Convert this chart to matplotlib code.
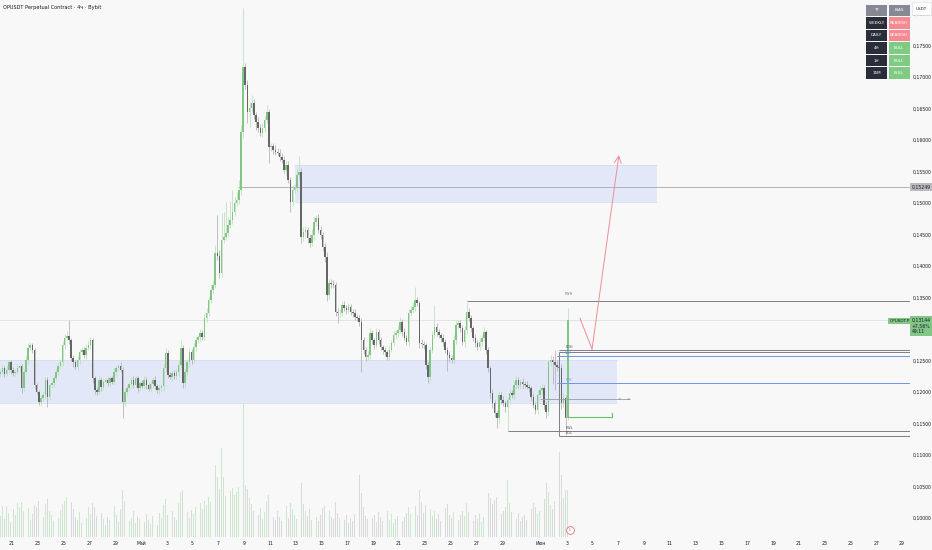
import numpy as np
import matplotlib
matplotlib.use('Agg')
import matplotlib.pyplot as plt
from matplotlib.patches import Rectangle
from matplotlib.transforms import blended_transform_factory
from matplotlib import font_manager

# OPUSDT.P 4h candles, 20 Apr 00:00 -> 3 Jun 00:00 (open of each bar = previous close)
first_open = 0.1228
closes = [
    .1232, .1238, .1229, .1235, .1247, .1235, .1230, .1232, .1238, .1241,
    .1206, .1232, .1251, .1270, .1274, .1267, .1211, .1200, .1184, .1190,
    .1195, .1219, .1192, .1211, .1214, .1222, .1232, .1241, .1247, .1274,
    .1286, .1289, .1282, .1254, .1247, .1240, .1251, .1263, .1267, .1259,
    .1270, .1274, .1282, .1222, .1203, .1200, .1219, .1208, .1216, .1219,
    .1214, .1222, .1216, .1232, .1238, .1241, .1235, .1184, .1200, .1206,
    .1213, .1219, .1211, .1222, .1206, .1214, .1209, .1219, .1211, .1205,
    .1213, .1219, .1209, .1203, .1206, .1209, .1238, .1262, .1227, .1224,
    .1230, .1225, .1232, .1243, .1270, .1214, .1232, .1247, .1263, .1251,
    .1271, .1282, .1287, .1294, .1287, .1317, .1325, .1346, .1362, .1370,
    .1421, .1416, .1389, .1441, .1446, .1452, .1465, .1473, .1486, .1500,
    .1505, .1521, .1613, .1716, .1688, .1645, .1651, .1659, .1640, .1629,
    .1619, .1611, .1619, .1632, .1645, .1589, .1590, .1584, .1581, .1580,
    .1573, .1568, .1553, .1561, .1537, .1502, .1521, .1524, .1545, .1549,
    .1446, .1454, .1457, .1444, .1436, .1449, .1470, .1476, .1457, .1449,
    .1430, .1414, .1354, .1373, .1372, .1370, .1327, .1325, .1326, .1338,
    .1333, .1330, .1335, .1327, .1325, .1319, .1317, .1311, .1282, .1267,
    .1255, .1259, .1294, .1282, .1274, .1295, .1282, .1271, .1267, .1263,
    .1255, .1267, .1278, .1290, .1294, .1298, .1311, .1295, .1286, .1279,
    .1325, .1330, .1335, .1346, .1341, .1278, .1276, .1274, .1243, .1224,
    .1267, .1290, .1303, .1295, .1290, .1286, .1279, .1267, .1259, .1254,
    .1251, .1282, .1306, .1309, .1301, .1279, .1298, .1327, .1317, .1301,
    .1286, .1278, .1271, .1279, .1286, .1295, .1267, .1238, .1198, .1182,
    .1166, .1158, .1195, .1187, .1182, .1176, .1187, .1198, .1195, .1211,
    .1219, .1211, .1216, .1213, .1211, .1208, .1206, .1192, .1179, .1171,
    .1195, .1203, .1206, .1179, .1168, .1247, .1251, .1247, .1243, .1240,
    .1238, .1182, .1190, .1158, .13144,
]
# wick lengths beyond the body, in 0.0001
up_wick = [
    4, 5, 3, 6, 4, 3, 5, 4, 6, 3,
    4, 5, 6, 7, 5, 4, 3, 4, 3, 5,
    6, 4, 5, 3, 4, 5, 4, 6, 5, 7,
    6, 8, 25, 4, 5, 3, 6, 5, 4, 5,
    6, 7, 5, 4, 3, 5, 6, 4, 5, 3,
    4, 5, 3, 6, 5, 4, 6, 5, 4, 5,
    3, 4, 6, 5, 3, 4, 5, 6, 4, 3,
    5, 4, 6, 3, 5, 4, 6, 8, 4, 5,
    3, 5, 4, 6, 12, 4, 5, 6, 7, 5,
    6, 5, 4, 6, 5, 7, 8, 6, 9, 7,
    12, 60, 10, 43, 40, 50, 12, 30, 35, 10,
    12, 15, 10, 94, 6, 8, 10, 12, 6, 5,
    7, 6, 8, 6, 10, 4, 6, 5, 8, 6,
    5, 7, 6, 8, 5, 4, 7, 6, 9, 26,
    6, 8, 7, 5, 6, 9, 8, 5, 6, 7,
    5, 6, 8, 7, 6, 5, 4, 6, 5, 7,
    6, 5, 7, 4, 5, 6, 4, 5, 6, 5,
    4, 6, 8, 5, 4, 7, 5, 6, 4, 5,
    4, 6, 5, 7, 5, 6, 8, 5, 6, 4,
    7, 6, 8, 20, 5, 4, 6, 5, 4, 6,
    5, 7, 35, 6, 5, 4, 6, 5, 4, 6,
    5, 8, 7, 6, 5, 6, 7, 16, 6, 5,
    4, 6, 5, 7, 5, 8, 4, 5, 4, 6,
    5, 4, 7, 5, 6, 4, 5, 6, 5, 7,
    6, 5, 4, 6, 5, 7, 5, 4, 6, 5,
    8, 6, 7, 5, 6, 3, 8, 6, 20, 7,
    9, 6, 8, 5, 19,
]
dn_wick = [
    5, 4, 6, 3, 5, 6, 4, 5, 3, 6,
    7, 5, 4, 6, 3, 5, 6, 4, 5, 6,
    5, 6, 16, 4, 5, 6, 3, 5, 4, 6,
    5, 4, 6, 5, 7, 4, 5, 6, 4, 5,
    6, 4, 5, 8, 6, 5, 4, 6, 5, 4,
    5, 6, 4, 5, 6, 5, 4, 26, 6, 5,
    4, 6, 5, 4, 6, 5, 3, 5, 6, 4,
    5, 6, 4, 5, 6, 4, 7, 6, 5, 4,
    6, 5, 4, 6, 5, 8, 6, 5, 7, 6,
    5, 6, 4, 6, 5, 4, 6, 5, 4, 6,
    5, 7, 8, 6, 5, 4, 6, 5, 7, 6,
    5, 6, 8, 10, 7, 18, 24, 6, 7, 13,
    6, 5, 7, 6, 5, 25, 6, 7, 5, 6,
    7, 5, 6, 8, 6, 16, 7, 5, 6, 7,
    9, 6, 8, 7, 6, 5, 7, 6, 5, 6,
    7, 8, 9, 6, 7, 5, 6, 16, 6, 5,
    5, 6, 4, 5, 6, 4, 5, 6, 50, 7,
    6, 5, 7, 6, 5, 4, 6, 5, 7, 6,
    5, 6, 4, 5, 6, 7, 5, 6, 4, 5,
    6, 5, 4, 6, 5, 8, 6, 5, 7, 10,
    6, 5, 4, 6, 5, 7, 6, 5, 25, 6,
    5, 7, 6, 5, 6, 5, 7, 6, 5, 6,
    5, 6, 4, 5, 6, 5, 7, 6, 8, 7,
    6, 15, 7, 6, 5, 8, 38, 6, 5, 7,
    6, 5, 7, 6, 5, 4, 6, 7, 5, 6,
    6, 5, 7, 6, 10, 5, 6, 35, 40, 6,
    7, 9, 6, 26, 3,
]
# volume, millions
volume = [
    2.1, 3.1, 1.8, 3.1, 2.4, 1.5, 2.8, 2.2, 3.4, 3.0,
    3.5, 2.6, 2.0, 2.9, 1.7, 2.3, 3.2, 3.0, 3.6, 2.5,
    2.0, 3.3, 3.8, 2.6, 2.2, 1.6, 2.4, 1.9, 2.7, 3.3,
    3.6, 4.0, 8.9, 3.5, 2.8, 2.0, 1.7, 2.5, 1.4, 2.2,
    1.9, 3.0, 2.3, 3.4, 3.0, 2.1, 1.6, 2.4, 1.8, 1.2,
    2.0, 1.7, 2.6, 3.1, 2.2, 1.5, 2.8, 4.7, 3.6, 2.1,
    1.6, 1.9, 2.6, 1.4, 2.0, 1.8, 2.9, 1.5, 2.3, 1.7,
    1.3, 2.1, 1.6, 1.2, 2.4, 1.9, 3.2, 3.8, 2.2, 1.8,
    2.6, 2.0, 1.7, 3.4, 4.5, 4.7, 3.1, 2.5, 1.9, 2.7,
    2.3, 3.0, 2.1, 3.4, 2.8, 3.6, 3.2, 4.0, 3.5, 4.4,
    7.2, 6.0, 4.8, 8.9, 6.0, 4.1, 3.7, 4.6, 4.9, 4.2,
    4.5, 5.0, 6.3, 13.4, 5.2, 4.8, 3.9, 3.3, 2.6, 3.0,
    2.2, 2.9, 1.8, 2.5, 3.6, 4.2, 2.4, 2.0, 1.7, 2.6,
    2.0, 1.6, 2.3, 3.1, 1.9, 3.4, 2.8, 2.2, 1.8, 3.0,
    5.4, 3.3, 2.6, 2.1, 2.8, 1.7, 2.4, 2.0, 1.6, 2.2,
    2.9, 3.1, 4.2, 2.7, 2.0, 1.8, 3.5, 2.4, 1.9, 1.5,
    1.7, 2.2, 1.4, 1.9, 1.6, 2.3, 2.8, 6.2, 4.4, 3.0,
    2.1, 1.8, 2.7, 1.9, 2.2, 1.5, 2.5, 2.0, 1.6, 1.9,
    2.6, 1.7, 2.3, 1.4, 1.8, 2.1, 2.9, 1.6, 2.0, 2.4,
    3.0, 2.3, 2.7, 3.1, 2.2, 4.7, 3.5, 2.4, 3.2, 3.9,
    2.8, 2.1, 2.6, 1.8, 2.3, 1.6, 2.0, 2.9, 3.3, 2.2,
    1.9, 2.5, 2.8, 1.7, 2.2, 2.6, 2.1, 3.4, 2.5, 2.0,
    1.6, 2.2, 1.8, 2.4, 1.5, 2.0, 3.2, 4.4, 3.9, 3.3,
    3.7, 4.0, 2.9, 2.3, 2.6, 3.0, 5.7, 3.4, 2.5, 2.1,
    1.8, 2.4, 1.6, 2.0, 2.2, 1.7, 2.5, 2.8, 3.4, 3.0,
    2.3, 2.6, 3.1, 3.8, 5.4, 4.5, 3.2, 2.8, 3.6, 4.1,
    8.5, 6.2, 3.9, 4.7, 4.7,
]

# time axis: days after 20 Apr
tick_days = list(range(1, 40, 2)) + list(range(42, 71, 2))
tick_labels = (['21', '23', '25', '27', '29', 'Май'] + [str(d) for d in range(3, 30, 2)]
               + ['Июн'] + [str(d) for d in range(3, 30, 2)])

# levels drawn on the chart
demand_zone = (0.1182, 0.1251)
supply_zone = (0.1502, 0.1561)
level_mark = 0.15249
pwh, pdh, box_top, vah, poc, eq_line, tp_line, pwl, pdl = (
    0.1344, 0.1267, 0.1264, 0.1257, 0.1214, 0.1189, 0.1160, 0.1138, 0.1130)
arrow_prices = [0.1317, 0.1268, 0.1576]
last_price = 0.13144

tf_rows = ['WEEKLY', 'DAILY', '4H', '1H', '15M']
bias_rows = ['BEARISH', 'BEARISH', 'BULL', 'BULL', 'BULL']

assert len(closes) == len(up_wick) == len(dn_wick) == len(volume)

names = {f.name for f in font_manager.fontManager.ttflist}
FONT = 'Liberation Sans Narrow' if 'Liberation Sans Narrow' in names else 'DejaVu Sans'
plt.rcParams['font.family'] = [FONT, 'DejaVu Sans']

BG = '#f8f8f8'
UP, DOWN = '#80c784', '#666666'
UP_W, DOWN_W = '#b6dcb8', '#a9a9a9'
BLUE = '#6f92ee'
GRAY_LINE = '#7d7f86'
TXT = '#131722'
FS = 3.3

closes = np.array(closes)
opens = np.r_[first_open, closes[:-1]]
highs = np.maximum(opens, closes) + np.array(up_wick) * 1e-4
lows = np.minimum(opens, closes) - np.array(dn_wick) * 1e-4
is_up = closes >= opens
x = np.arange(len(closes)) + 0.5

fig = plt.figure(figsize=(9.32, 5.5), dpi=100, facecolor=BG)
ax = fig.add_axes([0, 13 / 550, 910 / 932, 537 / 550])
vax = ax.twinx()
vax.set_zorder(ax.get_zorder() - 1)
ax.patch.set_visible(False)
vax.set_facecolor(BG)

X_RIGHT = 423.7
ax.set_xlim(0.42, X_RIGHT)
ax.set_ylim(0.09698, 0.18222)

# volume
vax.bar(x, volume, width=0.4, color=np.where(is_up, '#cde7ce', '#d9d9d9'), linewidth=0)
vax.set_ylim(0, max(volume) / 0.25)
vax.set_yticks([])
for s in vax.spines.values():
    s.set_visible(False)

# zones
ax.add_patch(Rectangle((0, demand_zone[0]), 287.4, demand_zone[1] - demand_zone[0],
                       facecolor='#2962ff', alpha=0.1, edgecolor='none', zorder=1))
ax.hlines(demand_zone, 0, 287.4, color='#d3dbef', lw=0.5, zorder=1)
ax.add_patch(Rectangle((137.6, supply_zone[0]), 306.0 - 137.6, supply_zone[1] - supply_zone[0],
                       facecolor='#2962ff', alpha=0.1, edgecolor='none', zorder=1))
ax.hlines(supply_zone, 137.6, 306.0, color='#d3dbef', lw=0.5, zorder=1)

ax.axhline(last_price, color='#d5d5d5', lw=0.4, zorder=1)
ax.hlines(level_mark, 111, X_RIGHT, color='#a8a8a8', lw=0.6, zorder=2)

# candles
ax.vlines(x, lows, highs, colors=np.where(is_up, UP_W, DOWN_W), lw=0.5, zorder=3)
body = np.maximum(np.abs(closes - opens), 0.00006)
ax.bar(x, body, bottom=np.minimum(opens, closes), width=0.72,
       color=np.where(is_up, UP, DOWN), linewidth=0, zorder=4)

# liquidity / value levels
ax.hlines(pwh, 217.5, X_RIGHT, color=GRAY_LINE, lw=0.7, zorder=5)
ax.hlines([pdh, box_top], [260.4, 260.4], X_RIGHT, color=GRAY_LINE, lw=0.7, zorder=5)
ax.vlines(260.4, pdl, box_top, color=GRAY_LINE, lw=0.7, zorder=5)
ax.hlines(pdl, 260.4, X_RIGHT, color=GRAY_LINE, lw=0.7, zorder=5)
ax.hlines(pwl, 236.5, X_RIGHT, color=GRAY_LINE, lw=0.7, zorder=5)
ax.hlines([vah, poc], 259.5, X_RIGHT, color=BLUE, lw=0.7, zorder=5)
ax.hlines(eq_line, 251.6, 293.4, color='#9a9ca3', lw=0.6, zorder=5)
for xm in (288.3, 292.5):
    ax.text(xm, eq_line, '×', fontsize=2.8, color='#787b86', ha='center', va='center', zorder=6)
ax.plot([264.6, 285.1], [tp_line, tp_line], color='#69bf6d', lw=0.8, zorder=6)
ax.plot([285.1, 285.1], [tp_line, tp_line + 0.0006], color='#69bf6d', lw=0.8, zorder=6)

lab_x = 265.1
for y, t, c in [(pwh + 0.0008, 'PWH', '#787b86'), (pdh + 0.0002, 'PDH', '#4a4c52'),
                (vah + 0.0002, 'VAH', BLUE), (poc + 0.0002, 'POC', BLUE),
                (pwl + 0.0002, 'PWL', '#4a4c52'), (pdl + 0.0001, 'PDL', '#4a4c52')]:
    ax.text(lab_x, y, t, fontsize=2.5, color=c, ha='center', va='bottom', zorder=7)

# projected path
ax.plot([270.2, 275.8], arrow_prices[:2], color='#f08c98', lw=0.7, zorder=6)
ax.annotate('', xy=(288.3, arrow_prices[2]), xytext=(275.8, arrow_prices[1]),
            arrowprops=dict(arrowstyle='->,head_length=0.5,head_width=0.25',
                            color='#f08c98', lw=0.7, shrinkA=0, shrinkB=0), zorder=6)

# event marker on the volume pane
tr_xa = blended_transform_factory(ax.transData, ax.transAxes)
ax.plot([265.5], [0.013], transform=tr_xa, marker='o', ms=5.6, mfc='white',
        mec='#e06c75', mew=0.6, zorder=8, clip_on=False)
ax.text(265.5, 0.013, 'E', transform=tr_xa, fontsize=2.2, color='#e06c75',
        ha='center', va='center', zorder=9)

# axes styling
for s in ax.spines.values():
    s.set_visible(False)
ax.set_xticks([d * 6 for d in tick_days])
ax.set_xticklabels(tick_labels)
ax.yaxis.tick_right()
yt = np.round(np.arange(0.100, 0.1801, 0.005), 3)
ax.set_yticks(yt)
# 0,13000 sits under the live price label on the scale
ax.set_yticklabels(['' if abs(v - 0.130) < 1e-9 else f'{v:.5f}'.replace('.', ',') for v in yt])
ax.tick_params(axis='both', length=0, labelsize=FS, colors=TXT)
ax.tick_params(axis='x', pad=3.2)
ax.tick_params(axis='y', pad=2.3)

# price scale labels
tr_ay = blended_transform_factory(ax.transAxes, ax.transData)
ax.text(1.0015, level_mark, '0,15249', transform=tr_ay, fontsize=FS, color=TXT,
        ha='left', va='center', clip_on=False, zorder=10,
        bbox=dict(boxstyle='square,pad=0.3', fc='#b9bbc1', ec='none'))
ax.text(1.0015, last_price + 0.0004, '0,13144\n+7,56%\n49:11', transform=tr_ay,
        fontsize=FS, color=TXT, ha='left', va='top', linespacing=1.25, clip_on=False,
        zorder=10, bbox=dict(boxstyle='square,pad=0.35', fc='#82c786', ec='none'))
ax.text(977 / 1000 + 0.0005, last_price - 0.0002, 'OPUSDT.P', transform=tr_ay,
        fontsize=FS * 0.9, color=TXT, ha='left', va='center', clip_on=False, zorder=10,
        bbox=dict(boxstyle='square,pad=0.25', fc='#82c786', ec='none'))

# overlay in pixel units for the screen furniture
oax = fig.add_axes([0, 0, 1, 1], zorder=20)
oax.set_xlim(0, 932)
oax.set_ylim(550, 0)
oax.axis('off')
oax.patch.set_visible(False)

oax.text(3, 7, 'OPUSDT Perpetual Contract · 4ч · Bybit', fontsize=3.6, color=TXT,
         ha='left', va='center')
oax.add_patch(Rectangle((912, 2), 19, 13, fc='white', ec='#dcdcdc', lw=0.4))
oax.text(921.5, 8.5, 'USDT', fontsize=3.0, color=TXT, ha='center', va='center')

col_x = [866, 888.5]
col_w = 21
row_h = 11.6
rows = [('TF', 'BIAS')] + list(zip(tf_rows, bias_rows))
for r, (tf, bias) in enumerate(rows):
    top = 4.5 + 12.55 * r
    if r == 0:
        fc_l, fc_r = '#868993', '#868993'
    else:
        fc_l = '#2a2e39'
        fc_r = '#f58a90' if bias == 'BEARISH' else '#7fcb83'
    oax.add_patch(Rectangle((col_x[0], top), col_w, row_h, fc=fc_l, ec='none'))
    oax.add_patch(Rectangle((col_x[1], top), col_w, row_h, fc=fc_r, ec='none'))
    oax.text(col_x[0] + col_w / 2, top + row_h / 2, tf, fontsize=3.0, color='white',
             ha='center', va='center')
    oax.text(col_x[1] + col_w / 2, top + row_h / 2, bias, fontsize=3.0, color='white',
             ha='center', va='center')

fig.savefig('out.png', dpi=100, facecolor=BG)
